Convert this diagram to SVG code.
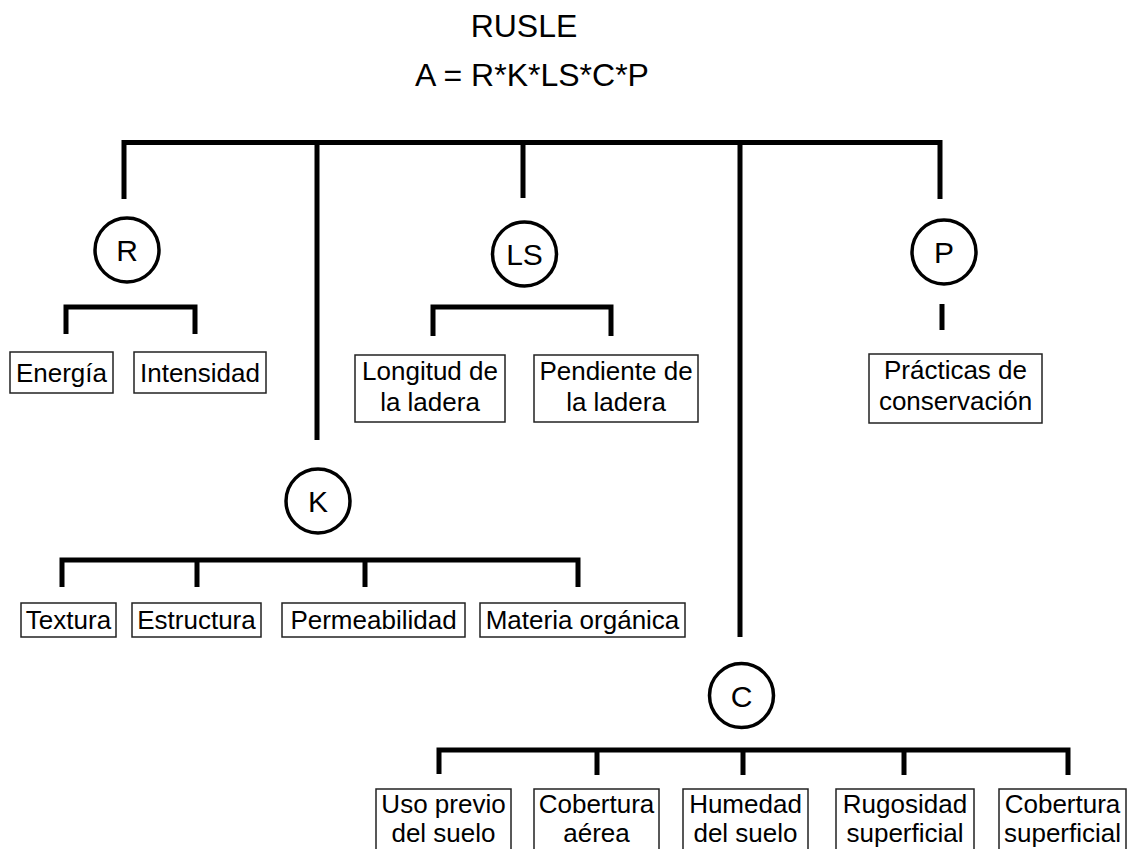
<svg xmlns="http://www.w3.org/2000/svg" width="1128" height="849" viewBox="0 0 1128 849">
<style>
  text { font-family: "Liberation Sans", Arial, sans-serif; fill: #000; text-anchor: middle; }
  .title { font-size: 32px; }
  .ctext { font-size: 30px; }
  .btext { font-size: 26px; }
  .cbtext { font-size: 26px; }
  .conn { fill: none; stroke: #000; stroke-width: 5; stroke-linejoin: miter; }
  .circ { fill: #fff; stroke: #000; stroke-width: 3.5; }
  .box { fill: #fff; stroke: #222; stroke-width: 1.5; }
</style>
<rect width="1128" height="849" fill="#fff"/>
<g id="title">
  <text class="title" x="524" y="37">RUSLE</text>
  <text class="title" x="532" y="86">A = R*K*LS*C*P</text>
</g>
<g id="connectors">
  <path class="conn" d="M124,199 V142.5 H940 V199"/>
  <path class="conn" d="M317,142.5 V440"/>
  <path class="conn" d="M523,142.5 V198"/>
  <path class="conn" d="M740,142.5 V637"/>
  <path class="conn" d="M66,334 V307 H195 V334"/>
  <path class="conn" d="M433,336 V307 H611 V336"/>
  <path class="conn" d="M942,304 V330"/>
  <path class="conn" d="M62,587 V560 H578 V587 M197,560 V587 M365,560 V587"/>
  <path class="conn" d="M439,774 V750 H1068 V775 M597,750 V775 M743,750 V775 M904,750 V775"/>
</g>
<g id="node-R">
  <circle class="circ" cx="127" cy="250" r="32"/>
  <text class="ctext" x="127" y="261">R</text>
</g>
<g id="node-LS">
  <circle class="circ" cx="524.5" cy="254" r="32"/>
  <text class="ctext" x="524.5" y="265">LS</text>
</g>
<g id="node-P">
  <circle class="circ" cx="944" cy="252" r="32"/>
  <text class="ctext" x="944" y="263">P</text>
</g>
<g id="node-K">
  <circle class="circ" cx="318" cy="501" r="32"/>
  <text class="ctext" x="318" y="512">K</text>
</g>
<g id="node-C">
  <circle class="circ" cx="741.5" cy="695.5" r="32"/>
  <text class="ctext" x="741.5" y="706.5">C</text>
</g>
<g id="node-energia">
  <rect class="box" x="10" y="352" width="103" height="41"/>
  <text class="btext" x="61.5" y="382">Energía</text>
</g>
<g id="node-intensidad">
  <rect class="box" x="134" y="352" width="132" height="41"/>
  <text class="btext" x="200" y="382">Intensidad</text>
</g>
<g id="node-longitud">
  <rect class="box" x="355" y="355" width="150" height="67"/>
  <text class="btext" x="430" y="380">Longitud de</text>
  <text class="btext" x="430" y="411">la ladera</text>
</g>
<g id="node-pendiente">
  <rect class="box" x="534" y="355" width="164" height="67"/>
  <text class="btext" x="616" y="380">Pendiente de</text>
  <text class="btext" x="616" y="411">la ladera</text>
</g>
<g id="node-practicas">
  <rect class="box" x="869" y="354" width="173" height="69"/>
  <text class="btext" x="955.5" y="379">Prácticas de</text>
  <text class="btext" x="955.5" y="410">conservación</text>
</g>
<g id="node-textura">
  <rect class="box" x="21" y="603" width="95" height="34"/>
  <text class="btext" x="68.5" y="629">Textura</text>
</g>
<g id="node-estructura">
  <rect class="box" x="132" y="603" width="129" height="34"/>
  <text class="btext" x="196.5" y="629">Estructura</text>
</g>
<g id="node-permeabilidad">
  <rect class="box" x="282" y="603" width="183" height="34"/>
  <text class="btext" x="373.5" y="629">Permeabilidad</text>
</g>
<g id="node-materia">
  <rect class="box" x="480" y="603" width="205" height="34"/>
  <text class="btext" x="582.5" y="629">Materia orgánica</text>
</g>
<g id="node-uso">
  <rect class="box" x="376" y="789" width="135" height="70"/>
  <text class="cbtext" x="443.5" y="813">Uso previo</text>
  <text class="cbtext" x="443.5" y="842">del suelo</text>
</g>
<g id="node-cobertura-aerea">
  <rect class="box" x="534" y="789" width="125" height="70"/>
  <text class="cbtext" x="596.5" y="813">Cobertura</text>
  <text class="cbtext" x="596.5" y="842">aérea</text>
</g>
<g id="node-humedad">
  <rect class="box" x="683" y="789" width="125" height="70"/>
  <text class="cbtext" x="745.5" y="813">Humedad</text>
  <text class="cbtext" x="745.5" y="842">del suelo</text>
</g>
<g id="node-rugosidad">
  <rect class="box" x="836" y="789" width="138" height="70"/>
  <text class="cbtext" x="905" y="813">Rugosidad</text>
  <text class="cbtext" x="905" y="842">superficial</text>
</g>
<g id="node-cobertura-superficial">
  <rect class="box" x="999" y="789" width="127" height="70"/>
  <text class="cbtext" x="1062.5" y="813">Cobertura</text>
  <text class="cbtext" x="1062.5" y="842">superficial</text>
</g>
</svg>
